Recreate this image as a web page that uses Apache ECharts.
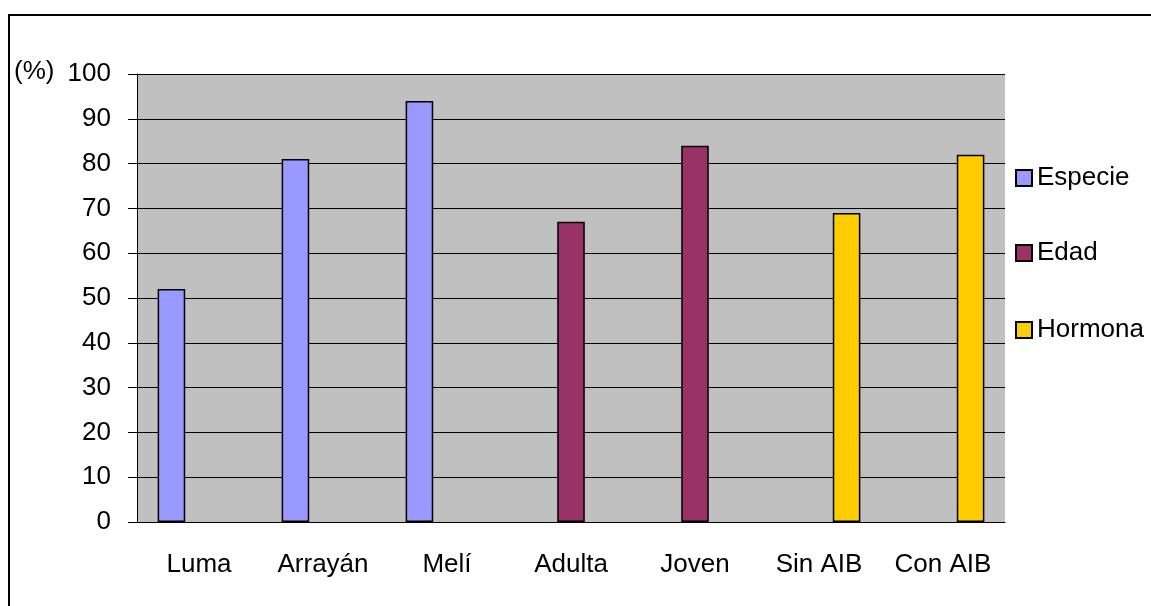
<!DOCTYPE html>
<html>
<head>
<meta charset="utf-8">
<script src="https://cdn.jsdelivr.net/npm/echarts@6/dist/echarts.min.js"></script>
<style>
  html, body { margin: 0; padding: 0; background: #fff; }
  #chart { width: 1151px; height: 606px; }
</style>
</head>
<body>
<div id="chart"></div>
<script>
// categorias del eje x
const categories = ['Luma', 'Arrayán', 'Melí', 'Adulta', 'Joven', 'Sin AIB', 'Con AIB'];
// valores (%) por serie, null donde la serie no aplica
const especie = [52, 81, 94, null, null, null, null];
const edad = [null, null, null, 67, 84, null, null];
const hormona = [null, null, null, null, null, 69, 82];
const yTicks = { min: 0, max: 100, interval: 10 };

const font = 'Liberation Sans, Arial, sans-serif';
const myChart = echarts.init(document.getElementById('chart'));

function legendAt(name, top) {
  return {
    data: [name],
    left: 1015,
    top: top,
    padding: 0,
    itemWidth: 16,
    itemHeight: 16,
    icon: 'rect',
    textStyle: { fontFamily: font, fontSize: 26, color: '#000' }
  };
}

const option = {
  animation: false,
  backgroundColor: '#fff',
  textStyle: { fontFamily: font },
  graphic: [
    {
      type: 'rect',
      shape: { x: 9, y: 15, width: 1200, height: 700 },
      style: { fill: 'none', stroke: '#000', lineWidth: 2 }
    },
    {
      type: 'text',
      style: {
        x: 14, y: 72, text: '(%)', fill: '#000',
        font: '26px ' + font, textVerticalAlign: 'middle'
      }
    }
  ],
  legend: [
    legendAt('Especie', 165),
    legendAt('Edad', 240),
    legendAt('Hormona', 317)
  ],
  grid: {
    left: 137,
    right: 146,
    top: 74,
    bottom: 84,
    show: true,
    backgroundColor: '#C0C0C0',
    borderWidth: 0
  },
  xAxis: {
    type: 'category',
    data: categories,
    axisLine: { lineStyle: { color: '#000', width: 1 } },
    axisTick: { length: 10, lineStyle: { color: '#000' } },
    axisLabel: { interval: 0, color: '#000', fontSize: 26, fontFamily: font, margin: 30 }
  },
  yAxis: {
    type: 'value',
    min: yTicks.min,
    max: yTicks.max,
    interval: yTicks.interval,
    axisLine: { show: true, lineStyle: { color: '#000', width: 1 } },
    axisTick: { show: true, length: 9, lineStyle: { color: '#000' } },
    axisLabel: { color: '#000', fontSize: 26, fontFamily: font, margin: 26 },
    splitLine: { lineStyle: { color: '#000', width: 1, type: 'solid' } }
  },
  series: [
    {
      name: 'Especie', type: 'bar', data: especie,
      barGap: '0%', barCategoryGap: '33.3%',
      itemStyle: { color: '#9999FF', borderColor: '#000', borderWidth: 1.5 }
    },
    {
      name: 'Edad', type: 'bar', data: edad,
      itemStyle: { color: '#993366', borderColor: '#000', borderWidth: 1.5 }
    },
    {
      name: 'Hormona', type: 'bar', data: hormona,
      itemStyle: { color: '#FFCC00', borderColor: '#000', borderWidth: 1.5 }
    }
  ]
};

myChart.setOption(option);
</script>
</body>
</html>
